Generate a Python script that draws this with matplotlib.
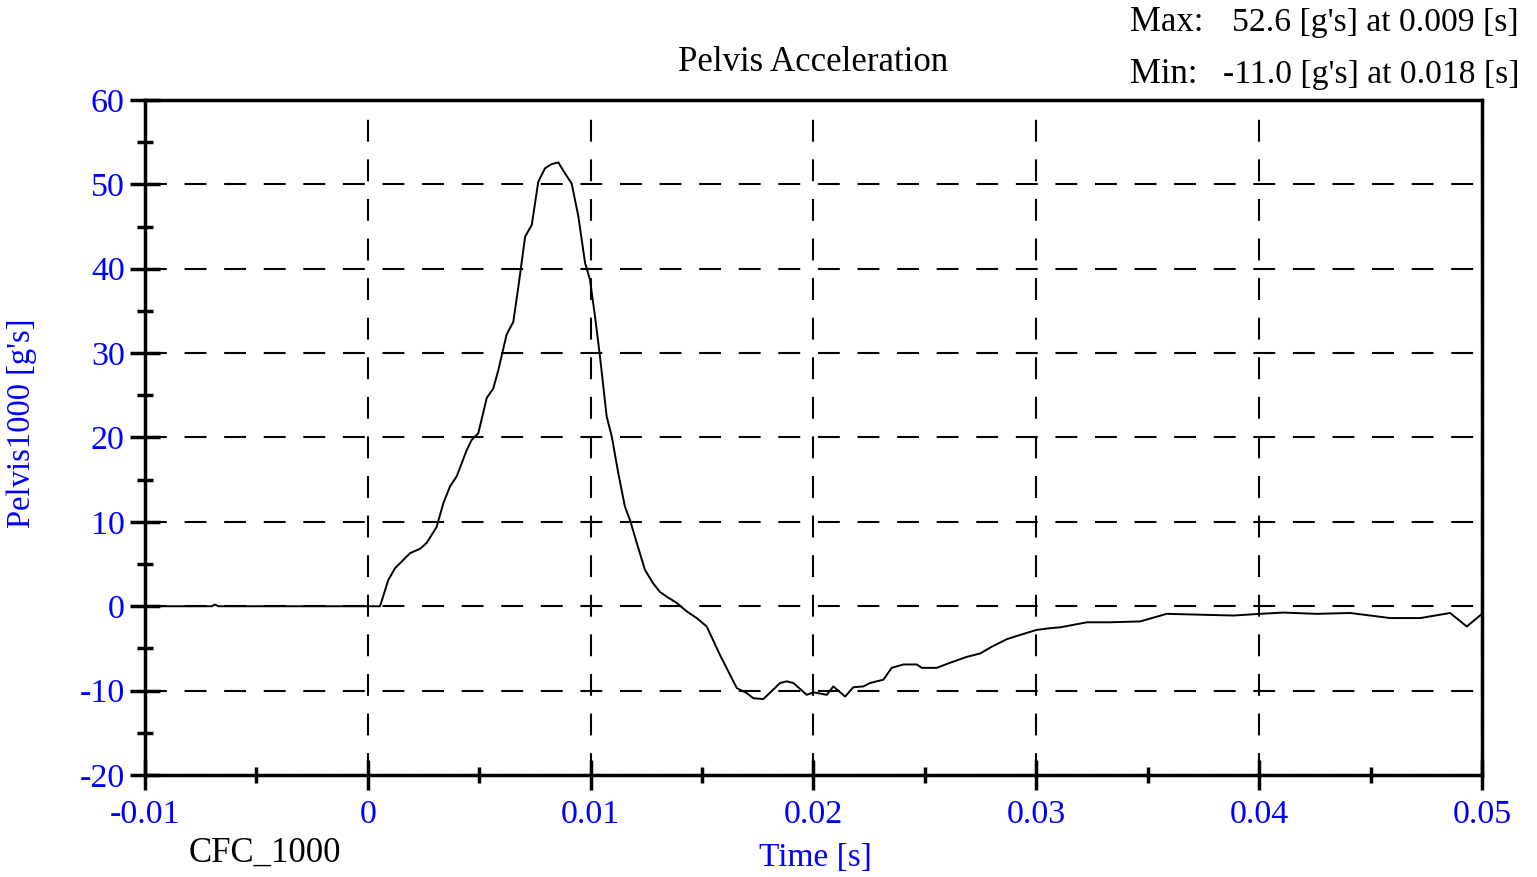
import numpy as np
import matplotlib
matplotlib.use('Agg')
import matplotlib.pyplot as plt
from matplotlib.ticker import MultipleLocator

plt.rcParams['font.family'] = ['Liberation Serif', 'DejaVu Serif']
plt.rcParams['axes.unicode_minus'] = False

# 数据 (时间 s, 加速度 g)
time_s = [-0.01, -0.0070, -0.00686, -0.0067, 0.0, 0.00055, 0.00092, 0.00122, 0.0019,
          0.00234, 0.00264, 0.00309, 0.00339, 0.00369, 0.00399, 0.00444, 0.00466,
          0.00496, 0.00534, 0.00563, 0.00586, 0.00623, 0.00653, 0.00676, 0.00706,
          0.00736, 0.00765, 0.00795, 0.00825, 0.00855, 0.00885, 0.00915, 0.00945,
          0.00975, 0.00997, 0.0102, 0.01042, 0.01072, 0.01095, 0.01124, 0.01154,
          0.01177, 0.01207, 0.01244, 0.01281, 0.01311, 0.01341, 0.01386, 0.01431,
          0.01476, 0.01521, 0.01581, 0.01656, 0.01701, 0.0173, 0.01775, 0.0185,
          0.0188, 0.0191, 0.0197, 0.0200, 0.0206, 0.02089, 0.02142, 0.02179,
          0.02224, 0.02254, 0.02314, 0.02351, 0.02404, 0.02464, 0.02486, 0.02553,
          0.02613, 0.02688, 0.02748, 0.028, 0.02868, 0.02927, 0.03002, 0.03062,
          0.03107, 0.03227, 0.03331, 0.03466, 0.03585, 0.03735, 0.03885, 0.04004,
          0.04109, 0.04259, 0.04409, 0.04588, 0.04723, 0.04857, 0.04932, 0.05]
accel_g = [0.0, 0.0, 0.2, 0.0, 0.0, 0.0, 3.1, 4.5, 6.3,
           6.8, 7.5, 9.4, 12.2, 14.2, 15.4, 18.5, 19.7,
           20.5, 24.7, 25.8, 28.0, 32.2, 33.7, 37.9, 43.8,
           45.2, 50.3, 51.9, 52.4, 52.6, 51.3, 50.1, 46.2,
           40.7, 38.7, 34.3, 29.6, 22.5, 20.1, 15.8, 11.8,
           10.2, 7.5, 4.3, 2.7, 1.7, 1.15, 0.4, -0.6,
           -1.4, -2.4, -5.8, -9.7, -10.3, -10.9, -11.0, -9.1,
           -8.9, -9.1, -10.5, -10.2, -10.5, -9.5, -10.7, -9.6,
           -9.5, -9.1, -8.7, -7.3, -6.9, -6.9, -7.3, -7.3,
           -6.7, -6.0, -5.6, -4.8, -3.9, -3.4, -2.8, -2.6,
           -2.5, -1.9, -1.9, -1.8, -0.9, -1.0, -1.1, -0.9,
           -0.75, -0.9, -0.8, -1.4, -1.4, -0.8, -2.4, -0.9]

x_ticks = [-0.01, 0, 0.01, 0.02, 0.03, 0.04, 0.05]
x_labels = ['-0.01', '0', '0.01', '0.02', '0.03', '0.04', '0.05']
y_ticks = [-20, -10, 0, 10, 20, 30, 40, 50, 60]

blue = '#0000ff'
fs = 25

fig = plt.figure(figsize=(15.37, 8.77), dpi=100)
ax = fig.add_axes([0.0943, 0.1163, 0.8699, 0.7697])

ax.plot(time_s, accel_g, color='black', linewidth=1.4, zorder=3)

ax.set_xlim(-0.01, 0.05)
ax.set_ylim(-20, 60)
ax.set_xticks(x_ticks)
ax.set_xticklabels(x_labels)
ax.set_yticks(y_ticks)
ax.xaxis.set_minor_locator(MultipleLocator(0.005))
ax.yaxis.set_minor_locator(MultipleLocator(5))

ax.grid(True, which='major', color='black', linewidth=1.5, linestyle=(0, (10.5, 8.5)))
ax.set_axisbelow(True)

for s in ax.spines.values():
    s.set_linewidth(2.5)

ax.tick_params(which='major', direction='inout', length=21, width=2.5,
               labelsize=24.5, labelcolor=blue, pad=4)
ax.tick_params(which='minor', direction='inout', length=12, width=2.5)
ax.tick_params(axis='x', which='major', pad=7)

fig.text(0.5293, 0.9285, 'Pelvis Acceleration', fontsize=fs, ha='center', va='center')
fig.text(0.7352, 0.974, 'Max:', fontsize=fs, ha='left', va='center')
fig.text(0.9883, 0.974, "52.6 [g's] at 0.009 [s]", fontsize=24.2, ha='right', va='center')
fig.text(0.7352, 0.915, 'Min:', fontsize=fs, ha='left', va='center')
fig.text(0.9883, 0.915, "-11.0 [g's] at 0.018 [s]", fontsize=24.2, ha='right', va='center')
fig.text(0.5303, 0.0218, 'Time [s]', fontsize=24, color=blue, ha='center', va='center')
fig.text(0.1724, 0.0275, 'CFC_1000', fontsize=fs, ha='center', va='center')
fig.text(0.0143, 0.5177, "Pelvis1000 [g's]", fontsize=23.5, color=blue,
         ha='center', va='center', rotation=90)

plt.savefig('out.png', dpi=100)
